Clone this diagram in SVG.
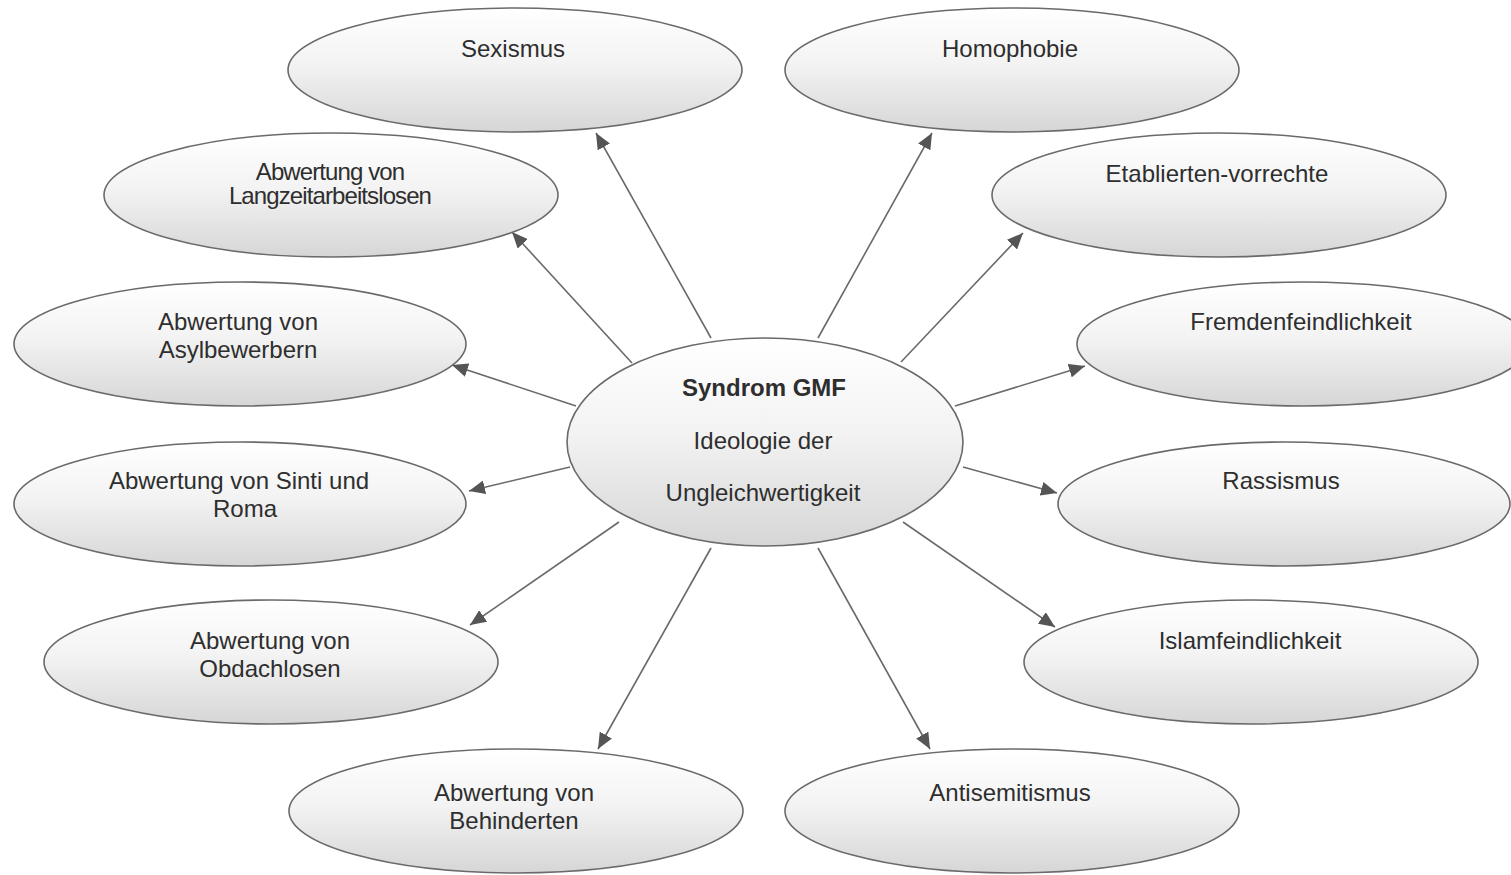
<svg xmlns="http://www.w3.org/2000/svg" width="1511" height="875" viewBox="0 0 1511 875">
<defs>
<linearGradient id="g" x1="0" y1="0" x2="0" y2="1">
<stop offset="0" stop-color="#ffffff"/>
<stop offset="0.45" stop-color="#f3f3f3"/>
<stop offset="1" stop-color="#d6d6d6"/>
</linearGradient>
<marker id="ah" markerUnits="userSpaceOnUse" markerWidth="18" markerHeight="14" refX="16" refY="7" orient="auto">
<path d="M0,0 L16,7 L0,14 Z" fill="#555"/>
</marker>
<style>
.n ellipse{fill:url(#g);stroke:#6a6a6a;stroke-width:1.6}
.n text{font-family:"Liberation Sans",Arial,sans-serif;font-size:24px;fill:#2e2e2e;text-anchor:middle}
.c line{stroke:#6a6a6a;stroke-width:1.6;marker-end:url(#ah)}
.b{font-weight:bold;font-size:26px;fill:#111}
.k{letter-spacing:-0.9px}
</style>
</defs>
<rect width="1511" height="875" fill="#fff"/>
<g id="connectors" class="c">
<line x1="711" y1="338" x2="596" y2="133"/>
<line x1="818" y1="338" x2="932" y2="133"/>
<line x1="632" y1="363" x2="512" y2="232"/>
<line x1="901" y1="362" x2="1023" y2="233"/>
<line x1="576" y1="406" x2="452" y2="365"/>
<line x1="955" y1="406" x2="1085" y2="366"/>
<line x1="570" y1="467" x2="469" y2="491"/>
<line x1="963" y1="467" x2="1057" y2="493"/>
<line x1="619" y1="522" x2="470" y2="625"/>
<line x1="903" y1="522" x2="1055" y2="627"/>
<line x1="711" y1="548" x2="598" y2="749"/>
<line x1="818" y1="548" x2="930" y2="749"/>
</g>
<g id="center" class="n">
<ellipse cx="765" cy="442" rx="198" ry="104"/>
<text x="764" y="396" class="b">Syndrom GMF</text>
<text x="763" y="449">Ideologie der</text>
<text x="763" y="501">Ungleichwertigkeit</text>
</g>
<g id="sexismus" class="n">
<ellipse cx="515" cy="70" rx="227" ry="62"/>
<text x="513" y="56.5">Sexismus</text>
</g>
<g id="homophobie" class="n">
<ellipse cx="1012" cy="70" rx="227" ry="62"/>
<text x="1010" y="56.5">Homophobie</text>
</g>
<g id="langzeit" class="n">
<ellipse cx="331" cy="195" rx="227" ry="62"/>
<text x="330" y="179.5" class="k">Abwertung von</text>
<text x="330" y="203.5" class="k">Langzeitarbeitslosen</text>
</g>
<g id="etablierten" class="n">
<ellipse cx="1219" cy="195" rx="227" ry="62"/>
<text x="1217" y="181.5">Etablierten-vorrechte</text>
</g>
<g id="asyl" class="n">
<ellipse cx="240" cy="344" rx="226" ry="62"/>
<text x="238" y="329.5">Abwertung von</text>
<text x="238" y="357.5">Asylbewerbern</text>
</g>
<g id="fremden" class="n">
<ellipse cx="1303" cy="344" rx="226" ry="62"/>
<text x="1301" y="329.5">Fremdenfeindlichkeit</text>
</g>
<g id="sinti" class="n">
<ellipse cx="240" cy="504" rx="226" ry="62"/>
<text x="239" y="488.5">Abwertung von Sinti und</text>
<text x="245" y="516.5">Roma</text>
</g>
<g id="rassismus" class="n">
<ellipse cx="1284" cy="504" rx="226" ry="62"/>
<text x="1281" y="488.5">Rassismus</text>
</g>
<g id="obdachlosen" class="n">
<ellipse cx="271" cy="662" rx="227" ry="62"/>
<text x="270" y="648.5">Abwertung von</text>
<text x="270" y="676.5">Obdachlosen</text>
</g>
<g id="islam" class="n">
<ellipse cx="1251" cy="662" rx="227" ry="62"/>
<text x="1250" y="648.5">Islamfeindlichkeit</text>
</g>
<g id="behinderten" class="n">
<ellipse cx="516" cy="811" rx="227" ry="62"/>
<text x="514" y="800.5">Abwertung von</text>
<text x="514" y="828.5">Behinderten</text>
</g>
<g id="antisemitismus" class="n">
<ellipse cx="1012" cy="811" rx="227" ry="62"/>
<text x="1010" y="800.5">Antisemitismus</text>
</g>
</svg>
